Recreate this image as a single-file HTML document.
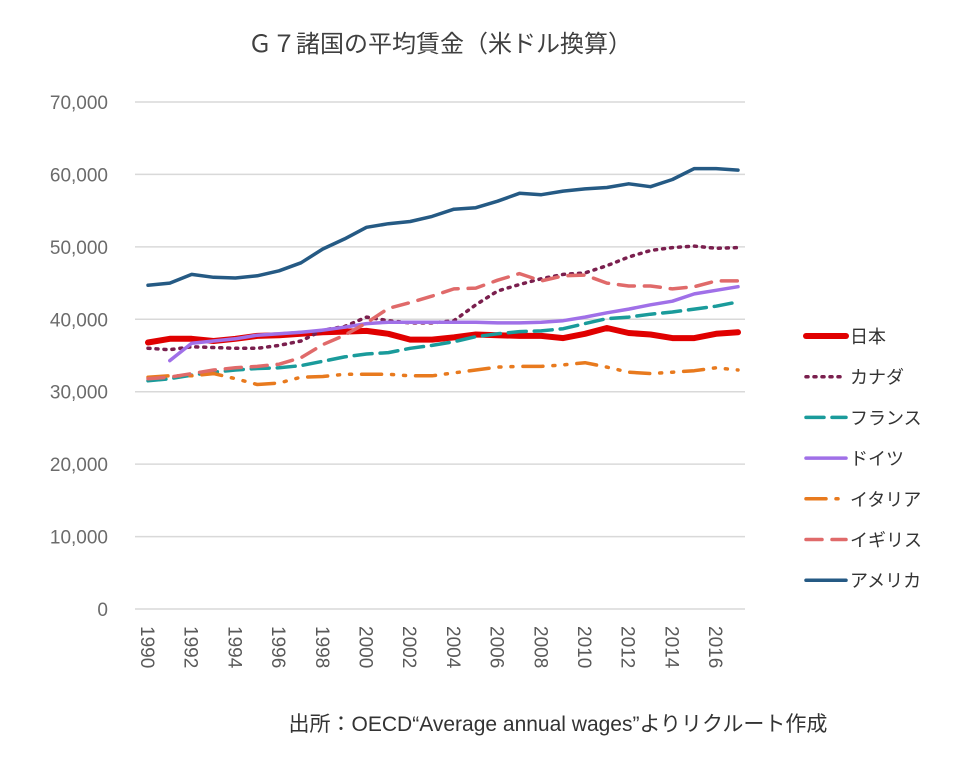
<!DOCTYPE html>
<html><head><meta charset="utf-8"><style>
body{margin:0;background:#fff;}
svg text{font-family:"Liberation Sans","Noto Sans CJK JP",sans-serif;}
</style></head><body>
<svg id="chart" width="960" height="765">
<text x="440" y="52" font-size="24" fill="#404040" text-anchor="middle">Ｇ７諸国の平均賃金（米ドル換算）</text>
<g id="grid"></g><g id="series"></g><g id="legend"></g>
<text x="558" y="731" font-size="21" fill="#333" text-anchor="middle">出所：OECD“Average annual wages”よりリクルート作成</text>
</svg>
<script>
const years=[1990,1991,1992,1993,1994,1995,1996,1997,1998,1999,2000,2001,2002,2003,2004,2005,2006,2007,2008,2009,2010,2011,2012,2013,2014,2015,2016,2017];
const yTicks=[0,10000,20000,30000,40000,50000,60000,70000];
const xTickYears=[1990,1992,1994,1996,1998,2000,2002,2004,2006,2008,2010,2012,2014,2016];
const japan=[36800,37300,37300,37000,37300,37700,37800,38000,38200,38300,38400,38000,37200,37200,37500,37900,37800,37700,37700,37400,38000,38800,38100,37900,37400,37400,38000,38200];
const canada=[36000,35800,36200,36100,36000,36000,36400,37000,38500,39000,40300,39800,39500,39500,39800,42000,43900,44800,45600,46200,46400,47400,48600,49500,49900,50100,49800,49900];
const france=[31500,31800,32300,32700,33000,33200,33300,33600,34200,34800,35200,35400,36000,36400,36900,37600,38000,38300,38400,38700,39400,40100,40300,40700,41000,41400,41800,42400];
const germany=[null,34300,36700,37000,37300,37800,38000,38200,38500,38900,39400,39600,39600,39600,39600,39600,39500,39500,39600,39800,40300,40900,41400,42000,42500,43500,44000,44500];
const italy=[32000,32200,32200,32500,31800,31000,31200,32000,32100,32400,32400,32400,32200,32200,32600,33000,33400,33500,33500,33700,34000,33400,32700,32500,32700,32900,33300,33000];
const uk=[31800,32000,32500,33000,33300,33500,33800,34700,36500,37800,39500,41500,42300,43200,44200,44300,45400,46300,45300,46000,46100,45000,44600,44600,44200,44500,45300,45300];
const usa=[44700,45000,46200,45800,45700,46000,46700,47800,49700,51100,52700,53200,53500,54200,55200,55400,56300,57400,57200,57700,58000,58200,58700,58300,59300,60800,60800,60600];
const seriesNames=["日本","カナダ","フランス","ドイツ","イタリア","イギリス","アメリカ"];
const seriesData=[japan,canada,france,germany,italy,uk,usa];
const styles=[
 {c:"#e00000",w:6,d:""},{c:"#7a1f4e",w:3.5,d:"2 6"},{c:"#1a9b9b",w:3.5,d:"18 8"},
 {c:"#a070e8",w:3.5,d:""},{c:"#e87a1e",w:3.5,d:"20 10 2 10 2 10"},{c:"#e06a6a",w:3.5,d:"16 10"},{c:"#255a84",w:3.5,d:""}];
const keys=["japan","canada","france","germany","italy","uk","usa"];
const NS="http://www.w3.org/2000/svg";
const X=y=>148+(y-1990)*21.85;
const Y=v=>609-v/10000*72.43;
function mk(t,a,p){const e=document.createElementNS(NS,t);for(const k in a)e.setAttribute(k,a[k]);p.appendChild(e);return e;}
const grid=document.getElementById('grid');
yTicks.forEach(v=>{
 const l=mk('line',{x1:135,x2:745,y1:Y(v),y2:Y(v),stroke:'#d9d9d9','stroke-width':1.5},grid);
 
 
 const t=mk('text',{x:108,y:Y(v)+7,'font-size':19,fill:'#6b6b6b','text-anchor':'end'},grid);
 t.textContent=v.toLocaleString('en-US');
 
 
});
xTickYears.forEach(yr=>{
 const t=mk('text',{x:0,y:0,'font-size':19,fill:'#595959',transform:`translate(${X(yr)-7},626) rotate(90)`},grid);
 t.textContent=yr;
 
 
});
const sg=document.getElementById('series');
seriesData.forEach((arr,i)=>{
 let d='',pen=false;
 arr.forEach((v,j)=>{if(v==null){pen=false;return;}d+=(pen?'L':'M')+X(years[j]).toFixed(1)+','+Y(v).toFixed(1);pen=true;});
 const s=styles[i];
 const p=mk('path',{d:d,fill:'none',stroke:s.c,'stroke-width':s.w,'stroke-dasharray':s.d,'stroke-linecap':'round','stroke-linejoin':'round'},sg);
 
 
});
const lg=document.getElementById('legend');
seriesNames.forEach((n,i)=>{
 const y=336+i*40.7,s=styles[i];
 const g=mk('g',{},lg);
 
 
 mk('line',{x1:806,x2:846,y1:y,y2:y,stroke:s.c,'stroke-width':s.w,'stroke-dasharray':s.d,'stroke-linecap':'round'},g);
 const t=mk('text',{x:850,y:y+7,'font-size':18,fill:'#333'},g);
 t.textContent=n;
});
</script>
</body></html>
